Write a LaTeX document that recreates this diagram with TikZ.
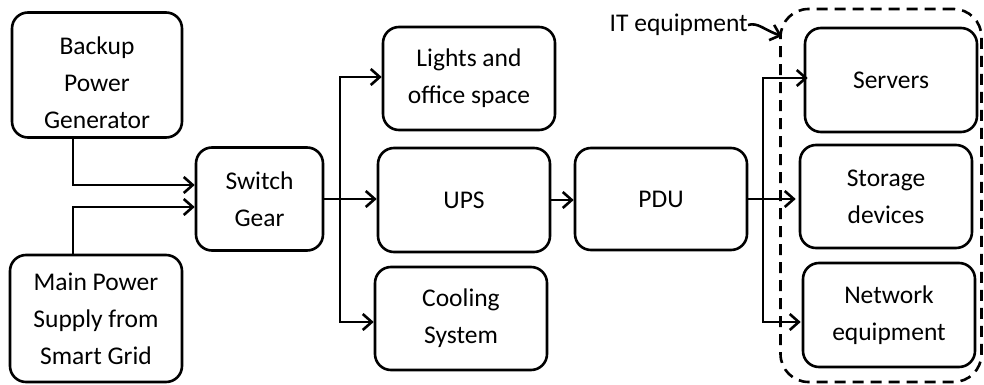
\documentclass[tikz,border=0pt]{standalone}
\usepackage{fontspec}
\setmainfont{Carlito}
\usetikzlibrary{arrows.meta}
\begin{document}
\begin{tikzpicture}[x=1pt,y=-1pt,
  blk/.style={draw, line width=2.6pt, rounded corners=16pt, align=center,
    inner sep=0pt, minimum width=172pt, minimum height=103pt,
    font=\fontsize{25.5}{37}\selectfont},
  txt/.style={align=center, inner sep=0pt, font=\fontsize{25.5}{37}\selectfont},
  arr/.style={line width=2.6pt, -{Straight Barb[length=9pt,width=16pt,line width=2.6pt]}},
  ln/.style={line width=2.6pt}]
\useasboundingbox (0,0) rectangle (984,385);
\node[blk, minimum width=170pt, minimum height=125pt] (bk) at (97,75) {};
\node[txt] (bkt) at (97,83) {Backup\\Power\\Generator};
\node[blk, minimum height=127pt] (mp) at (96,318.5) {Main Power\\Supply from\\Smart Grid};
\node[blk, minimum width=127pt] (sg) at (259.5,199) {Switch\\Gear};
\node[blk] (li) at (469,78.5) {Lights and\\office space};
\node[blk, minimum height=104pt] (ups) at (464,200) {UPS};
\node[blk] (co) at (461,318.5) {Cooling\\System};
\node[blk, minimum height=102pt] (pdu) at (661,199) {PDU};
\node[blk, minimum height=104pt] (sv) at (891,80) {Servers};
\node[blk] (st) at (886,196.5) {Storage\\devices};
\node[blk, minimum height=104pt] (nw) at (889,315) {Network\\equipment};
\node[draw, dashed, dash pattern=on 11pt off 7pt, line width=2.6pt, rounded corners=28pt,
  minimum width=201pt, minimum height=373pt, inner sep=0pt] (itbox) at (881,195.5) {};
\node[txt, anchor=east] (itl) at (748,25) {IT equipment};
\coordinate (itp) at (782,36);
\coordinate (br1) at (340,199);
\coordinate (br2) at (763,199);
% inputs to switch gear
\draw[arr] ([xshift=-24pt]bk.south) |- ([yshift=14pt]sg.west);
\draw[arr] ([xshift=-23pt]mp.north) |- ([yshift=-8pt]sg.west);
% switch gear outputs
\draw[arr] (sg.east) -- (sg.east -| ups.west);
\draw[arr] (br1) |- ([yshift=1.5pt]li.west);
\draw[arr] (br1) |- ([yshift=-3.5pt]co.west);
% UPS -> PDU
\draw[arr] (ups.east) -- (ups.east -| pdu.west);
% PDU outputs
\draw[arr] (pdu.east) -- ([xshift=-3pt]pdu.east -| st.west);
\draw[arr] (br2) |- ([xshift=4pt,yshift=2pt]sv.west);
\draw[arr] (br2) |- ([xshift=-1pt,yshift=-7pt]nw.west);
% IT equipment label arrow
\draw[arr] (itl.east) .. controls (758,22) and (764,30) .. (itp);
\end{tikzpicture}
\end{document}
